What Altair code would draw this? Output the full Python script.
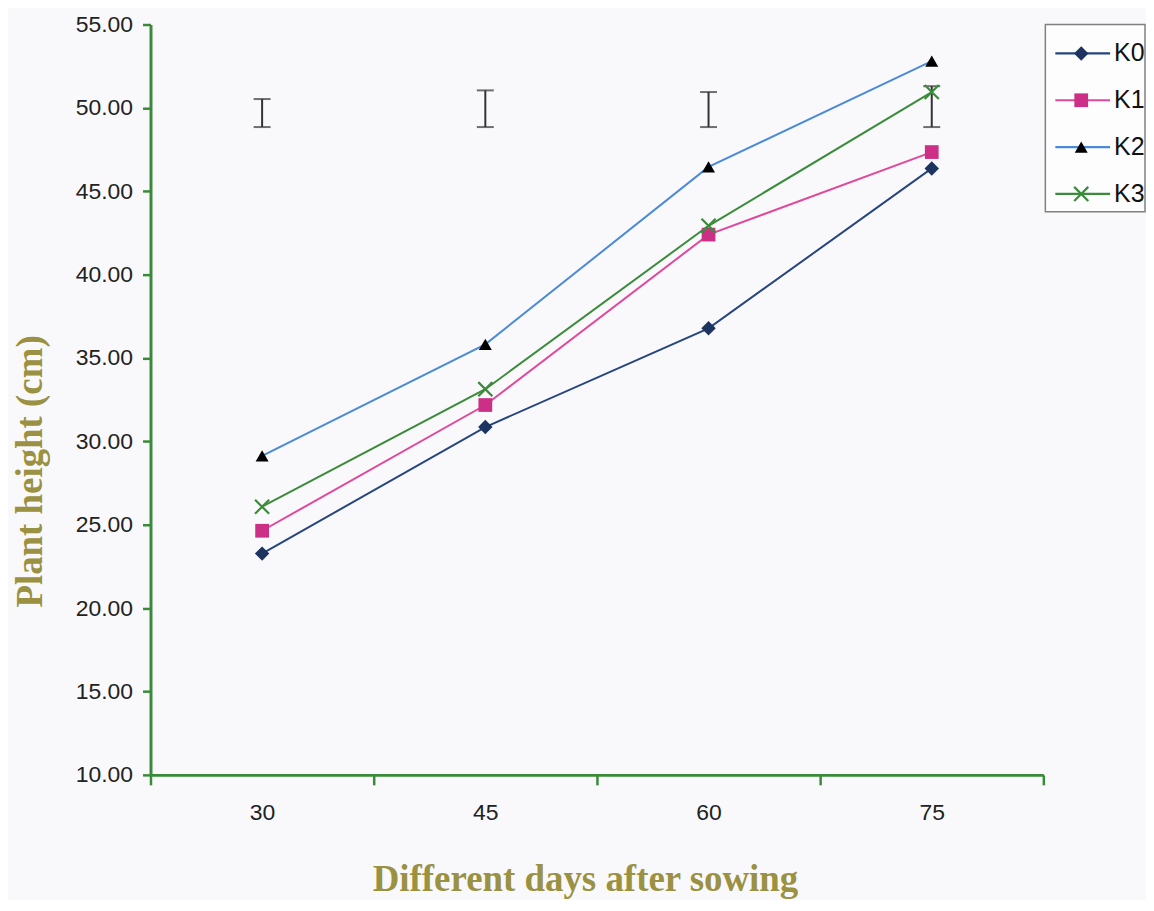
import altair as alt
import pandas as pd

# ---- data ----
days = ["30", "45", "60", "75"]
series = ["K0", "K1", "K2", "K3"]
k0 = [23.27, 30.86, 36.78, 46.37]
k1 = [24.64, 32.18, 42.40, 47.35]
k2 = [29.13, 35.82, 46.46, 52.80]
k3 = [26.08, 33.13, 42.93, 50.95]
err_low = [48.85, 48.85, 48.85, 48.85]
err_high = [50.53, 51.05, 50.95, 51.30]
y_ticks = [10, 15, 20, 25, 30, 35, 40, 45, 50, 55]

# ---- styles ----
line_colors = ["#27457f", "#e0489c", "#4a8ad8", "#3b8b3b"]
marker_colors = ["#1d3461", "#cc2f86", "#000000", "#3b8b3b"]
marker_sizes = [210, 150, 230, 200]
x_path = "M-1,-1L1,1M-1,1L1,-1"
shapes = ["diamond", "square", "triangle-up", x_path]
axis_green = "#3a8a3a"
title_color = "#9a9142"
label_font = "Liberation Sans"
title_font = "Liberation Serif"

rows = []
for name, vals in zip(series, [k0, k1, k2, k3]):
    for d, v in zip(days, vals):
        rows.append({"day": d, "series": name, "height": v})
df = pd.DataFrame(rows)
err_df = pd.DataFrame({"day": days, "low": err_low, "high": err_high})
leg_df = pd.DataFrame({"series": series})

line_scale = alt.Scale(domain=series, range=line_colors)
marker_scale = alt.Scale(domain=series, range=marker_colors)
shape_scale = alt.Scale(domain=series, range=shapes)
size_scale = alt.Scale(domain=series, range=marker_sizes)

x_enc = alt.X(
    "day:N",
    sort=days,
    scale=alt.Scale(type="band", paddingInner=0, paddingOuter=0),
    axis=alt.Axis(
        title="Different days after sowing",
        labelAngle=0,
        tickBand="extent",
        tickSize=10,
        tickWidth=2.5,
        tickColor=axis_green,
        domainColor=axis_green,
        domainWidth=3,
        labelPadding=17,
        labelFont=label_font,
        labelFontSize=23,
        labelColor="#222222",
        titleFont=title_font,
        titleFontWeight="bold",
        titleFontSize=37,
        titleColor=title_color,
        titleX=436,
        titleY=116,
        titleAlign="center",
        titleBaseline="alphabetic",
        grid=False,
    ),
)
y_enc = alt.Y(
    "height:Q",
    scale=alt.Scale(domain=[10, 55], nice=False, zero=False),
    axis=alt.Axis(
        title="Plant height (cm)",
        values=y_ticks,
        format=".2f",
        tickSize=8,
        tickWidth=2.5,
        tickColor=axis_green,
        domainColor=axis_green,
        domainWidth=3,
        labelPadding=10,
        labelFont=label_font,
        labelFontSize=23,
        labelColor="#222222",
        titleFont=title_font,
        titleFontWeight="bold",
        titleFontSize=37,
        titleColor=title_color,
        titleX=-120,
        titleY=448,
        titleAlign="center",
        titleBaseline="middle",
        grid=False,
    ),
)

base = alt.Chart(df)
lines = base.mark_line(strokeWidth=2).encode(
    x=x_enc, y=y_enc,
    stroke=alt.Stroke("series:N", scale=line_scale, legend=None),
    detail="series:N",
)
filled_pts = base.transform_filter(alt.datum.series != "K3").mark_point(
    filled=True, opacity=1
).encode(
    x=alt.X("day:N", sort=days), y="height:Q",
    fill=alt.Fill("series:N", scale=marker_scale, legend=None),
    shape=alt.Shape("series:N", scale=shape_scale, legend=None),
    size=alt.Size("series:N", scale=size_scale, legend=None),
)
x_pts = base.transform_filter(alt.datum.series == "K3").mark_point(
    shape=x_path, filled=False, color="#3b8b3b", strokeWidth=2.2, size=200, opacity=1
).encode(x=alt.X("day:N", sort=days), y="height:Q")

err = alt.Chart(err_df)
err_rule = err.mark_rule(color="#333333", strokeWidth=2).encode(
    x=alt.X("day:N", sort=days), y="low:Q", y2="high:Q"
)
err_cap_lo = err.mark_tick(color="#333333", thickness=2, size=17).encode(
    x=alt.X("day:N", sort=days), y="low:Q"
)
err_cap_hi = err.mark_tick(color="#333333", thickness=2, size=17).encode(
    x=alt.X("day:N", sort=days), y="high:Q"
)

main = alt.layer(lines, err_rule, err_cap_lo, err_cap_hi, filled_pts, x_pts).properties(
    width=896, height=753, view=alt.ViewBackground(stroke="transparent")
)

# ---- legend panel ----
leg_y = alt.Y("series:N", sort=series,
              scale=alt.Scale(type="point", domain=series, range=[29, 170], padding=0),
              axis=None)
leg = alt.Chart(leg_df)
leg_lines = leg.mark_rule(strokeWidth=2.2).encode(
    x=alt.value(10), x2=alt.value(65), y=leg_y,
    stroke=alt.Stroke("series:N", scale=line_scale, legend=None),
)
leg_filled = leg.transform_filter(alt.datum.series != "K3").mark_point(
    filled=True, opacity=1
).encode(
    x=alt.value(36), y=leg_y,
    fill=alt.Fill("series:N", scale=marker_scale, legend=None),
    shape=alt.Shape("series:N", scale=shape_scale, legend=None),
    size=alt.Size("series:N", scale=size_scale, legend=None),
)
leg_x = leg.transform_filter(alt.datum.series == "K3").mark_point(
    shape=x_path, filled=False, color="#3b8b3b", strokeWidth=2.2, size=200, opacity=1
).encode(x=alt.value(36), y=leg_y)
leg_text = leg.mark_text(
    align="left", baseline="middle", font=label_font, fontSize=25, color="#111111"
).encode(x=alt.value(69), y=leg_y, text="series:N")

legend = alt.layer(leg_lines, leg_filled, leg_x, leg_text).properties(
    width=100, height=188,
    view=alt.ViewBackground(stroke="#808080", strokeWidth=1.5, fill="#fdfdfe"),
)

chart = alt.hconcat(main, legend, spacing=2, bounds="flush").properties(
    padding={"left": 3, "top": 3, "right": 0, "bottom": 0}
).configure(background="#f9f9fb")

chart.save("out.html", embed_options={"renderer": "svg", "actions": False})
